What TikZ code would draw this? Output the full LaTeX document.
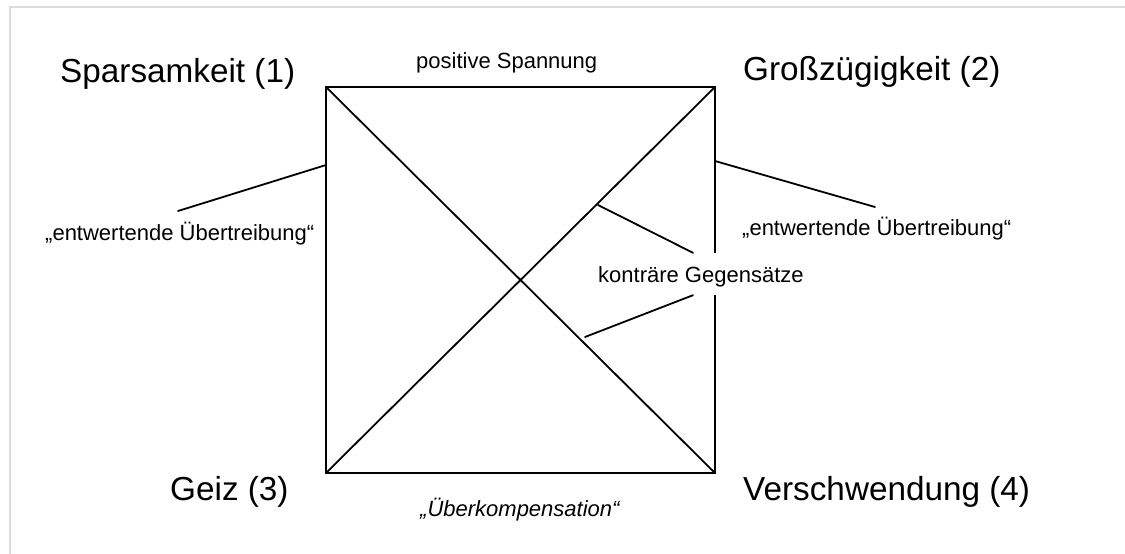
\documentclass[tikz,border=0pt]{standalone}
\usepackage{fontspec}
\setmainfont{Liberation Sans}
\usetikzlibrary{calc}
\definecolor{framegray}{RGB}{220,220,220}
\tikzset{
  biglabel/.style={anchor=base west, inner sep=0pt, font=\fontsize{33.3}{40}\selectfont},
  smalllabel/.style={anchor=base west, inner sep=0pt, font=\fontsize{22}{26}\selectfont},
  edge/.style={line width=1.8pt, black, line cap=round, line join=miter},
}
\begin{document}
\begin{tikzpicture}[x=1pt, y=-1pt]
  \useasboundingbox (0,0) rectangle (1125,554);
  \fill[white] (0,0) rectangle (1125,554);
  % light frame along the top and left
  \draw[framegray, line width=2pt] (1125,7) -| (10,554);

  % corners of the square
  \coordinate (tl) at (326,87);
  \coordinate (tr) at (715,87);
  \coordinate (bl) at (326,473);
  \coordinate (br) at (715,473);

  % square and its diagonals
  \draw[edge] (tl) -- (tr) -- (br) -- (bl) -- cycle;
  \draw[edge] (tl) -- (br);
  \draw[edge] (bl) -- (tr);

  % corner labels
  \node[biglabel] (spar) at (60,82) {Sparsamkeit (1)};
  \node[biglabel] (gross) at (743,80) {Großzügigkeit (2)};
  \node[biglabel] (geiz) at (170,500) {Geiz (3)};
  \node[biglabel] (versch) at (743,500) {Verschwendung (4)};

  % side labels
  \node[smalllabel] (pos) at (416,68) {positive Spannung};
  \node[smalllabel] (ueberk) at (420,516) {\itshape „Überkompensation“};
  \node[smalllabel] (entwL) at (45,240) {„entwertende Übertreibung“};
  \node[smalllabel] (entwR) at (742,235) {„entwertende Übertreibung“};

  % label over the right side, white box interrupts the side line
  \node[anchor=base west, fill=white, inner xsep=0pt, inner ysep=0pt,
        text height=29pt, text depth=13pt,
        font=\fontsize{22}{26}\selectfont] (kg) at (598,282) {konträre Gegensätze};

  % pointer lines
  \coordinate (eL) at (326,165);
  \coordinate (eLend) at (178,211);
  \coordinate (eR) at (715,161);
  \coordinate (eRend) at (875,207);
  \draw[edge] (eL) -- (eLend);
  \draw[edge] (eR) -- (eRend);

  \coordinate (d1) at (598,205);
  \coordinate (d2) at (585,337);
  \draw[edge] (d1) -- ($(kg.north west)+(95,0)$);
  \draw[edge] (d2) -- ($(kg.south west)+(95,0)$);
\end{tikzpicture}
\end{document}
